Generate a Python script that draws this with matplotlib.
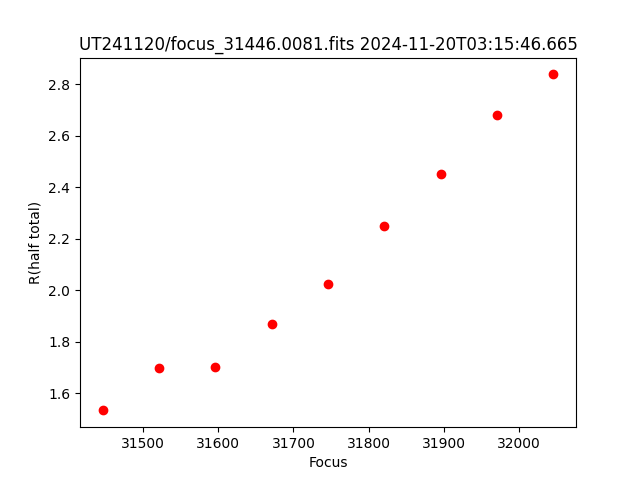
import matplotlib
matplotlib.use('Agg')
import matplotlib.pyplot as plt

focus = [31446, 31521, 31596, 31671, 31746, 31821, 31896, 31971, 32046]
r_half = [1.534, 1.697, 1.701, 1.868, 2.023, 2.252, 2.454, 2.680, 2.839]

plt.figure(figsize=(6.4, 4.8), dpi=100)
plt.plot(focus, r_half, 'ro')
plt.title('UT241120/focus_31446.0081.fits 2024-11-20T03:15:46.665')
plt.xlabel('Focus')
plt.ylabel('R(half total)')
plt.savefig('out.png')
plt.close()
